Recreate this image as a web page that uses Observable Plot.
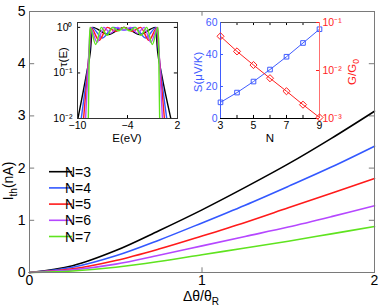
<!DOCTYPE html>
<html><head><meta charset="utf-8">
<script src="https://cdn.jsdelivr.net/npm/d3@7"></script>
<script src="https://cdn.jsdelivr.net/npm/@observablehq/plot@0.6"></script>
<style>
body{margin:0;background:#fff;}
#wrap{position:relative;width:382px;height:308px;background:#fff;}
#wrap svg{position:absolute;left:0;top:0;}
</style></head><body><div id="wrap"></div>
<script>
// ---------- main chart data ----------
const ratio = [0, 0.25, 0.5, 0.75, 1, 1.25, 1.5, 1.75, 2];
const seriesNames = ["N=3", "N=4", "N=5", "N=6", "N=7"];
const seriesColors = ["#000000", "#3358ff", "#ff1a1a", "#b547ff", "#5fe31f"];
const ithN3 = [0, 0.13, 0.42, 0.80, 1.20, 1.63, 2.08, 2.57, 3.09];
const ithN4 = [0, 0.10, 0.32, 0.62, 0.95, 1.29, 1.65, 2.02, 2.42];
const ithN5 = [0, 0.07, 0.23, 0.45, 0.70, 0.96, 1.24, 1.52, 1.80];
const ithN6 = [0, 0.05, 0.16, 0.33, 0.51, 0.69, 0.87, 1.07, 1.28];
const ithN7 = [0, 0.03, 0.10, 0.21, 0.34, 0.47, 0.60, 0.74, 0.88];
const mainXTicks = [0, 1, 2];
const mainYTicks = [0, 1, 2, 3, 4, 5];

// ---------- inset 1: transmission tau(E) ----------
const tauN3E = [-9.95, -8.9, -8.45, -8.2, -6.31, -4.42, -2.53, -0.64, -0.39, 0.06, 1.2];
const tauN3 = [0.01, 0.1, 0.3, 1, 0.7, 1, 0.7, 1, 0.3, 0.1, 0.01];
const tauN4E = [-9.55, -8.85, -8.5, -8.3, -7.01, -5.71, -4.42, -3.13, -1.83, -0.54, -0.34, 0.01, 0.71];
const tauN4 = [0.01, 0.1, 0.4, 1, 0.585, 1, 0.87, 1, 0.585, 1, 0.4, 0.1, 0.01];
const tauN5E = [-9.27, -8.8, -8.55, -8.4, -7.41, -6.41, -5.42, -4.42, -3.42, -2.43, -1.43, -0.44, -0.29, -0.04, 0.43];
const tauN5 = [0.01, 0.1, 0.4, 1, 0.52, 1, 0.82, 1, 0.82, 1, 0.52, 1, 0.4, 0.1, 0.01];
const tauN6E = [-9.03, -8.75, -8.6, -8.45, -7.64, -6.84, -6.03, -5.23, -4.42, -3.61, -2.81, -2.0, -1.2, -0.39, -0.24, -0.09, 0.19];
const tauN6 = [0.01, 0.1, 0.4, 1, 0.47, 1, 0.74, 1, 0.87, 1, 0.74, 1, 0.47, 1, 0.4, 0.1, 0.01];
const tauN7E = [-8.7, -8.62, -8.58, -8.5, -7.82, -7.14, -6.46, -5.78, -5.10, -4.42, -3.74, -3.06, -2.38, -1.70, -1.02, -0.34, -0.26, -0.22, -0.14];
const tauN7 = [0.01, 0.1, 0.4, 1, 0.42, 1, 0.67, 1, 0.84, 1, 0.84, 1, 0.67, 1, 0.42, 1, 0.4, 0.1, 0.01];
const tauXTicks = [-10, -4, 2];
const tauYTicks = [0.01, 0.1, 1];

// ---------- inset 2: S and G vs N ----------
const chainN = [3, 4, 5, 6, 7, 8, 9];
const seebeck = [10.1, 16.2, 23.1, 30.6, 38.6, 47.2, 55.8];
const conductance = [0.0516, 0.025, 0.013, 0.0069, 0.0037, 0.00194, 0.00105];
const nTickLabels = [3, 5, 7, 9];
const sTicks = [0, 20, 40, 60];
const gTicks = [0.001, 0.01, 0.1];

const FONT = "'Liberation Sans', Arial, Helvetica, sans-serif";
const W = 382, H = 308;
const BLUE2 = "#3f5cff", RED2 = "#ff1f1f";
const wrap = document.getElementById("wrap");
const supMap = {"-": "\u207B", "0": "\u2070", "1": "\u00B9", "2": "\u00B2", "3": "\u00B3"};
const pow10 = d => "10" + String(Math.round(Math.log10(d))).split("").map(c => supMap[c]).join("");
const plain = d => String(d).replace("-", "\u2212");

// ---------- main plot ----------
const mainSeries = [ithN3, ithN4, ithN5, ithN6, ithN7];
const mainRows = seriesNames.flatMap((s, i) => ratio.map((r, j) => ({s, x: r, y: mainSeries[i][j]})));
const FR = "#7a7a7a";
const main = Plot.plot({
  width: W, height: H, marginLeft: 29, marginRight: 8, marginTop: 11, marginBottom: 36,
  x: {domain: [0, 2]}, y: {domain: [0, 5]},
  color: {domain: seriesNames, range: seriesColors},
  style: {fontFamily: FONT, fontSize: "14px", background: "transparent", color: "#000", overflow: "visible"},
  marks: [
    Plot.axisX({ticks: mainXTicks, tickSize: 0, tickPadding: 3, fontSize: 14, tickFormat: plain, label: null}),
    Plot.axisY({ticks: mainYTicks, tickSize: 0, tickPadding: 4, fontSize: 14, tickFormat: plain, label: null}),
    Plot.ruleX(mainXTicks, {y1: 0, y2: 0.09, stroke: FR}),
    Plot.ruleX(mainXTicks, {y1: 5, y2: 4.91, stroke: FR}),
    Plot.ruleY(mainYTicks, {x1: 0, x2: 0.03, stroke: FR}),
    Plot.ruleY(mainYTicks, {x1: 2, x2: 1.97, stroke: FR}),
    Plot.line(mainRows, {x: "x", y: "y", z: "s", stroke: "s", strokeWidth: 1.6, curve: "catmull-rom"}),
    Plot.frame({stroke: FR})
  ]
});
wrap.appendChild(main);
const ms = d3.select(main);
// x label
const xl = ms.append("text").attr("x", 201).attr("y", 301).attr("text-anchor", "middle")
  .attr("font-family", FONT).attr("font-size", 14).attr("fill", "#000");
xl.append("tspan").text("\u0394\u03B8/\u03B8");
xl.append("tspan").attr("font-size", 10).attr("dy", 4).text("R");
// y label
const yl = ms.append("text").attr("transform", "translate(13,181) rotate(-90)").attr("text-anchor", "middle")
  .attr("font-family", FONT).attr("font-size", 14).attr("fill", "#000");
yl.append("tspan").text("I");
yl.append("tspan").attr("font-size", 10).attr("dy", 4).text("th");
yl.append("tspan").attr("dy", -4).text("(nA)");
// legend
seriesNames.forEach((s, i) => {
  const yy = 171.7 + i * 16.2;
  ms.append("line").attr("x1", 49).attr("x2", 72).attr("y1", yy).attr("y2", yy)
    .attr("stroke", seriesColors[i]).attr("stroke-width", 1.6);
  ms.append("text").attr("x", 78).attr("y", yy + 5).attr("font-family", FONT).attr("font-size", 14)
    .attr("fill", "#000").text(s);
});

// ---------- inset 1 ----------
const tauE = [tauN3E, tauN4E, tauN5E, tauN6E, tauN7E];
const tauV = [tauN3, tauN4, tauN5, tauN6, tauN7];
const tauRows = seriesNames.flatMap((s, i) => tauE[i].map((e, j) => ({s, E: e, t: tauV[i][j]})));
const in1 = Plot.plot({
  width: W, height: H, marginLeft: 77, marginRight: 205, marginTop: 22, marginBottom: 190,
  x: {domain: [-10, 2]}, y: {type: "log", domain: [0.01, 1.28]},
  color: {domain: seriesNames, range: seriesColors},
  style: {fontFamily: FONT, fontSize: "10.5px", background: "transparent", color: "#000", overflow: "visible"},
  marks: [
    Plot.frame({fill: "#fff", stroke: "none"}),
    Plot.line(tauRows, {x: "E", y: "t", z: "s", stroke: "s", strokeWidth: 1.4, curve: "monotone-x", clip: true}),
    Plot.axisX({ticks: tauXTicks, tickSize: 0, tickPadding: 3, fontSize: 10.5, tickFormat: plain, label: null}),
    Plot.axisY({ticks: tauYTicks, tickSize: 0, tickPadding: 5, fontSize: 10.5, tickFormat: pow10, label: null}),
    Plot.ruleX(tauXTicks, {y1: 0.01, y2: 0.0116, stroke: "#000"}),
    Plot.ruleX(tauXTicks, {y1: 1.28, y2: 1.10, stroke: "#000"}),
    Plot.ruleY(tauYTicks, {x1: -10, x2: -9.62, stroke: "#000"}),
    Plot.ruleY(tauYTicks, {x1: 2, x2: 1.62, stroke: "#000"}),
    Plot.frame({stroke: "#333"})
  ]
});
wrap.appendChild(in1);
const s1 = d3.select(in1);
s1.append("text").attr("x", 127).attr("y", 142).attr("text-anchor", "middle").attr("font-family", FONT)
  .attr("font-size", 11.5).attr("fill", "#000").text("E(eV)");
s1.append("text").attr("transform", "translate(67,57) rotate(-90)").attr("text-anchor", "middle")
  .attr("font-family", FONT).attr("font-size", 11.5).attr("fill", "#000").text("\u03C4(E)");

// ---------- inset 2 (S, left axis) ----------
const sRows = chainN.map((n, i) => ({n, v: seebeck[i]}));
const gRows = chainN.map((n, i) => ({n, v: conductance[i]}));
const in2a = Plot.plot({
  width: W, height: H, marginLeft: 220, marginRight: 63, marginTop: 22, marginBottom: 190,
  x: {domain: [3, 9]}, y: {domain: [0, 60]},
  style: {fontFamily: FONT, fontSize: "10.5px", background: "transparent", color: "#000", overflow: "visible"},
  marks: [
    Plot.frame({fill: "#fff", stroke: "none"}),
    Plot.axisX({ticks: nTickLabels, tickSize: 0, tickPadding: 3, fontSize: 10.5, tickFormat: plain, label: null}),
    Plot.axisY({ticks: sTicks, tickSize: 0, tickPadding: 3, fontSize: 10.5, fill: BLUE2, tickFormat: plain, label: null}),
    Plot.ruleX(chainN, {y1: 0, y2: 1.9, stroke: "#000"}),
    Plot.ruleX(chainN, {y1: 60, y2: 58.1, stroke: "#000"}),
    Plot.ruleY(sTicks, {x1: 3, x2: 3.18, stroke: BLUE2}),
    Plot.ruleY([60], {stroke: "#555"}),
    Plot.ruleY([0], {stroke: "#000"}),
    Plot.ruleX([3], {stroke: BLUE2}),
    Plot.line(sRows, {x: "n", y: "v", stroke: BLUE2, strokeWidth: 1}),
    Plot.dot(sRows, {x: "n", y: "v", symbol: "square", r: 2.6, stroke: BLUE2, fill: "none", strokeWidth: 1})
  ]
});
wrap.appendChild(in2a);
// ---------- inset 2 (G, right axis) ----------
const in2b = Plot.plot({
  width: W, height: H, marginLeft: 220, marginRight: 63, marginTop: 22, marginBottom: 190,
  x: {domain: [3, 9], axis: null}, y: {type: "log", domain: [0.001, 0.1], axis: null},
  style: {fontFamily: FONT, fontSize: "10.5px", background: "transparent", color: "#000", overflow: "visible"},
  marks: [
    Plot.axisY({anchor: "right", ticks: gTicks, tickSize: 0, tickPadding: 3, fontSize: 10.5, fill: RED2, tickFormat: pow10, label: null}),
    Plot.ruleY(gTicks, {x1: 9, x2: 8.82, stroke: RED2}),
    Plot.ruleX([9], {stroke: "#ff7070"}),
    Plot.line(gRows, {x: "n", y: "v", stroke: RED2, strokeWidth: 1}),
    Plot.dot(gRows, {x: "n", y: "v", symbol: "diamond2", r: 3.2, stroke: RED2, fill: "none", strokeWidth: 1})
  ]
});
wrap.appendChild(in2b);
const s2 = d3.select(in2b);
s2.append("text").attr("x", 270).attr("y", 142).attr("text-anchor", "middle").attr("font-family", FONT)
  .attr("font-size", 11.5).attr("fill", "#000").text("N");
s2.append("text").attr("transform", "translate(202,72) rotate(-90)").attr("text-anchor", "middle")
  .attr("font-family", FONT).attr("font-size", 11.5).attr("fill", BLUE2).text("S(\u03BCV/K)");
const gl = s2.append("text").attr("transform", "translate(356,72) rotate(-90)").attr("text-anchor", "middle")
  .attr("font-family", FONT).attr("font-size", 11.5).attr("fill", RED2);
gl.append("tspan").text("G/G");
gl.append("tspan").attr("font-size", 8.5).attr("dy", 3).text("0");
</script></body></html>
